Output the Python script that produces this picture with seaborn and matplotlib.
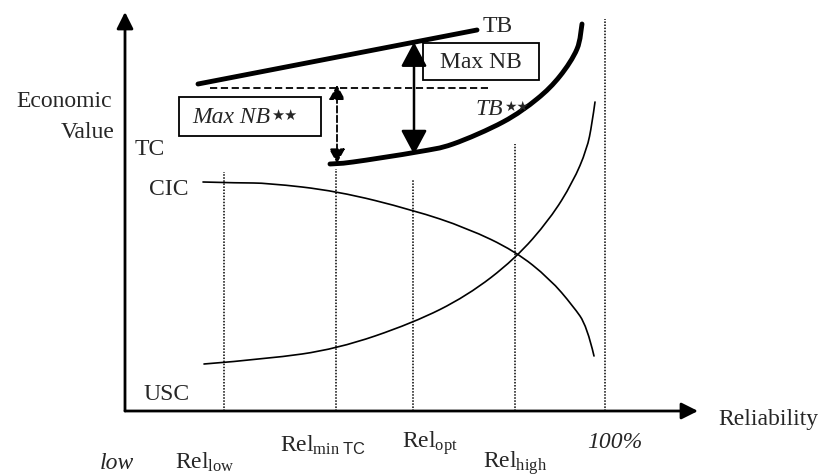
import numpy as np
import pandas as pd
import matplotlib.pyplot as plt
import seaborn as sns
from matplotlib.patches import Rectangle, ArrowStyle, PathPatch
from matplotlib.path import Path

# Conceptual curves (x = reliability, y = economic value)
usc_x = [79, 142, 212, 288, 342, 390, 425, 448, 462, 467, 470]
usc_y = [47, 52, 62, 88, 115, 152, 192, 229, 262, 287, 309]

cic_x = [78, 115, 142, 212, 288, 342, 390, 425, 448, 462, 469]
cic_y = [229, 228, 228, 220, 201, 183, 160, 132, 105, 85, 55]

tbss_x = [205, 228, 292, 328, 378, 412, 435, 452, 457]
tbss_y = [247, 249, 259, 267, 289, 312, 335, 362, 387]

tb_x = [73, 352]
tb_y = [327, 381]

# Reliability levels (dotted verticals) and how high they reach
rel_names = ['low', 'min TC', 'opt', 'high', '100%']
rel_x = [99, 211, 288, 390, 480]
rel_top = [239, 242, 232, 267, 392]

# Max NB** reference level (dashed)
nbss_level = 323
nbss_x = [85, 363]


def smooth_curve(ax, xs, ys, lw, through=False):
    # draw a smooth path over the read points (drawing only)
    p = np.column_stack([xs, ys]).astype(float)
    verts = [tuple(p[0])]
    codes = [Path.MOVETO]
    if through:
        # catmull-rom, passes through every point
        ext = np.vstack([p[0], p, p[-1]])
        for i in range(1, len(ext) - 2):
            c1 = ext[i] + (ext[i + 1] - ext[i - 1]) / 6
            c2 = ext[i + 1] - (ext[i + 2] - ext[i]) / 6
            verts += [tuple(c1), tuple(c2), tuple(ext[i + 1])]
            codes += [Path.CURVE4] * 3
    else:
        # quadratic b-spline, evens out reading noise
        n = len(p)
        for i in range(1, n - 1):
            end = (p[i] + p[i + 1]) / 2 if i < n - 2 else p[-1]
            verts += [tuple(p[i]), tuple(end)]
            codes += [Path.CURVE3, Path.CURVE3]
    patch = PathPatch(Path(verts, codes), fill=False, lw=lw, ec='black',
                      capstyle='round', joinstyle='round')
    ax.add_patch(patch)


# Style
sns.set_theme(style='white')
plt.rcParams['font.family'] = ['Liberation Serif', 'DejaVu Sans']
plt.rcParams['mathtext.fontset'] = 'custom'
plt.rcParams['mathtext.rm'] = 'Liberation Serif'
plt.rcParams['mathtext.it'] = 'Liberation Serif:italic'
plt.rcParams['mathtext.sf'] = 'Liberation Sans'
fs = 17

fig = plt.figure(figsize=(8.22, 4.77), dpi=100)
ax = fig.add_axes([0, 0, 1, 1])
ax.set_xlim(-125, 697)
ax.set_ylim(-65, 412)
ax.axis('off')

# Axes with arrows
ax.annotate('', xy=(573, 0), xytext=(0, 0),
            arrowprops=dict(arrowstyle='-|>', lw=2, color='black',
                            mutation_scale=25, shrinkA=0, shrinkB=0))
ax.annotate('', xy=(0, 399), xytext=(0, 0),
            arrowprops=dict(arrowstyle='-|>', lw=2, color='black',
                            mutation_scale=25, shrinkA=0, shrinkB=0))

# Dotted reliability levels
for x, top in zip(rel_x, rel_top):
    ax.plot([x, x], [0, top], color='black', lw=1.1, linestyle=(0, (1, 1)))

# Curves
smooth_curve(ax, usc_x, usc_y, 1.2)
smooth_curve(ax, cic_x, cic_y, 1.2)
smooth_curve(ax, tbss_x, tbss_y, 3.5, through=True)
sns.lineplot(x=tb_x, y=tb_y, color='black', lw=3.5, sort=False,
             estimator=None, ax=ax, solid_capstyle='round')

# Dashed level for Max NB**
ax.plot(nbss_x, [nbss_level, nbss_level], color='black', lw=1.3, linestyle=(0, (4, 2)))

# Max NB arrow at Rel_opt, between TB and TB**
x_opt = rel_x[2] + 1
top = np.interp(x_opt, tb_x, tb_y)
bot = np.interp(x_opt, tbss_x, tbss_y) - 2
ax.annotate('', xy=(x_opt, bot), xytext=(x_opt, top),
            arrowprops=dict(arrowstyle=ArrowStyle('<|-|>', head_length=0.75, head_width=0.4),
                            mutation_scale=20, lw=1.8, color='black',
                            shrinkA=0, shrinkB=0))

# Max NB** dashed arrow at Rel_min TC
x_min = rel_x[1] + 1
bot2 = np.interp(x_min, tbss_x, tbss_y)
ax.annotate('', xy=(x_min, bot2), xytext=(x_min, nbss_level + 3),
            arrowprops=dict(arrowstyle=ArrowStyle('<|-|>', head_length=0.55, head_width=0.3),
                            mutation_scale=16, lw=1.3, color='black', linestyle='--',
                            shrinkA=0, shrinkB=0))

# Boxes
ax.add_patch(Rectangle((298, 331), 116, 37, fill=False, lw=1.3, ec='black', zorder=3))
ax.add_patch(Rectangle((54, 275), 142, 39, fill=False, lw=1.3, ec='black', zorder=3))

ax.text(356, 349.5, 'Max NB', fontsize=fs, ha='center', va='center')
t1 = ax.text(67, 294.5, 'Max NB', fontsize=fs, style='italic', ha='left', va='center')
ax.annotate('★★', xy=(1, 0.95), xycoords=t1, xytext=(1, 0), textcoords='offset points',
            fontsize=10.5, va='top', ha='left', family=['DejaVu Sans'])

t2 = ax.text(350, 297, 'TB', fontsize=fs, style='italic', ha='left', va='baseline')
ax.annotate('★★', xy=(1, 0.95), xycoords=t2, xytext=(1, 0), textcoords='offset points',
            fontsize=10, va='top', ha='left', family=['DejaVu Sans'])

# Curve labels
ax.text(358, 380, 'TB', fontsize=fs, ha='left', va='baseline')
ax.text(10, 257, 'TC', fontsize=fs, ha='left', va='baseline')
ax.text(24, 217, 'CIC', fontsize=fs, ha='left', va='baseline')
ax.text(18, 12, 'USC', fontsize=fs, ha='left', va='baseline')

# Axis labels
ax.text(-13, 305, 'Economic', fontsize=fs, ha='right', va='baseline')
ax.text(-10, 274, 'Value', fontsize=fs, ha='right', va='baseline')
ax.text(593, -13, 'Reliability', fontsize=fs, ha='left', va='baseline')

# Reliability level labels
ax.text(-25, -57, 'low', fontsize=fs, style='italic', ha='left', va='baseline')
ax.text(50, -57, r'Rel$_{\mathrm{low}}$', fontsize=fs, ha='left', va='baseline')
ax.text(155, -40, r'Rel$_{\mathrm{min}\ \mathsf{TC}}$', fontsize=fs, ha='left', va='baseline')
ax.text(277, -36, r'Rel$_{\mathrm{opt}}$', fontsize=fs, ha='left', va='baseline')
ax.text(358, -56, r'Rel$_{\mathrm{high}}$', fontsize=fs, ha='left', va='baseline')
ax.text(462, -36, '100%', fontsize=fs, style='italic', ha='left', va='baseline')

plt.savefig('out.png', dpi=100)
